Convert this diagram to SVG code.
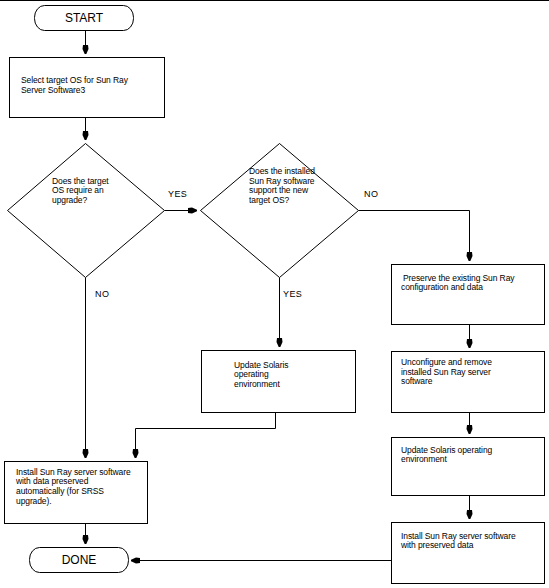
<svg xmlns="http://www.w3.org/2000/svg" width="549" height="588" viewBox="0 0 549 588">
<style>
  .shape { fill: #fff; stroke: #000; stroke-width: 1; }
  .conn { fill: none; stroke: #000; stroke-width: 1; marker-end: url(#arr); }
  text { font-family: "Liberation Sans", Arial, sans-serif; fill: #000; }
  .t { font-size: 8.5px; letter-spacing: -0.1px; }
  .term { font-size: 12px; text-anchor: middle; }
  .lbl { font-size: 9px; letter-spacing: 0.4px; }
</style>
<defs>
  <marker id="arr" markerUnits="userSpaceOnUse" viewBox="-10 -4 11 8" refX="0" refY="0" markerWidth="11" markerHeight="8" orient="auto">
    <path d="M-9,-2.5 L-5,-3 L0,-0.8 L0,0.8 L-5,3 L-9,2.5 Z" fill="#000"/>
  </marker>
</defs>
<rect width="549" height="588" fill="#fff"/>
<line x1="0" y1="0.5" x2="549" y2="0.5" stroke="#000"/>

<g id="connectors">
  <path class="conn" d="M85.5,30.5 V54"/>
  <path class="conn" d="M85.5,117.5 V140"/>
  <path class="conn" d="M164.5,210.5 H197"/>
  <path class="conn" d="M358.5,210.5 H469.5 V261"/>
  <path class="conn" d="M85.5,277.5 V458"/>
  <path class="conn" d="M279.5,277.5 V347"/>
  <path class="conn" d="M275.5,412.5 V428.5 H135.5 V458"/>
  <path class="conn" d="M469.5,324.5 V348"/>
  <path class="conn" d="M469.5,412.5 V434"/>
  <path class="conn" d="M469.5,495.5 V519"/>
  <path class="conn" d="M391.5,560.5 H131"/>
  <path class="conn" d="M85.5,523.5 V544"/>
  <text class="lbl" x="168" y="197">YES</text>
  <text class="lbl" x="364" y="197">NO</text>
  <text class="lbl" x="95" y="297">NO</text>
  <text class="lbl" x="283" y="297">YES</text>
</g>

<g id="start">
  <rect class="shape" x="34.5" y="5.5" width="99" height="25" rx="10" ry="12"/>
  <text class="term" x="84" y="22">START</text>
</g>

<g id="select">
  <rect class="shape" x="9.5" y="57.5" width="155" height="60"/>
  <text class="t" x="21" y="83">Select target OS for Sun Ray</text>
  <text class="t" x="21" y="92.6">Server Software3</text>
</g>

<g id="decision1">
  <polygon class="shape" points="85.5,143.5 164.5,210.5 85.5,277.5 7.5,210.5"/>
  <text class="t" x="52" y="183.5">Does the target</text>
  <text class="t" x="52" y="193.1">OS require an</text>
  <text class="t" x="52" y="202.7">upgrade?</text>
</g>

<g id="decision2">
  <polygon class="shape" points="279.5,143.5 358.5,210.5 279.5,277.5 200.5,210.5"/>
  <text class="t" x="249" y="174">Does the installed</text>
  <text class="t" x="249" y="183.6">Sun Ray software</text>
  <text class="t" x="249" y="193.2">support the new</text>
  <text class="t" x="249" y="202.8">target OS?</text>
</g>

<g id="preserve">
  <rect class="shape" x="391.5" y="264.5" width="153" height="60"/>
  <text class="t" x="403" y="280.8">Preserve the existing Sun Ray</text>
  <text class="t" x="401" y="290.4">configuration and data</text>
</g>

<g id="update1">
  <rect class="shape" x="201.5" y="350.5" width="154" height="62"/>
  <text class="t" x="234" y="367.5">Update Solaris</text>
  <text class="t" x="234" y="377.1">operating</text>
  <text class="t" x="234" y="386.7">environment</text>
</g>

<g id="unconfigure">
  <rect class="shape" x="391.5" y="351.5" width="153" height="61"/>
  <text class="t" x="401" y="365">Unconfigure and remove</text>
  <text class="t" x="401" y="374.6">installed Sun Ray server</text>
  <text class="t" x="401" y="384.2">software</text>
</g>

<g id="update2">
  <rect class="shape" x="391.5" y="437.5" width="153" height="58"/>
  <text class="t" x="401" y="452.8">Update Solaris operating</text>
  <text class="t" x="401" y="462.4">environment</text>
</g>

<g id="install2">
  <rect class="shape" x="391.5" y="522.5" width="153" height="61"/>
  <text class="t" x="401" y="538.8">Install Sun Ray server software</text>
  <text class="t" x="401" y="548.4">with preserved data</text>
</g>

<g id="install1">
  <rect class="shape" x="4.5" y="461.5" width="143" height="62"/>
  <text class="t" x="16" y="474.8">Install Sun Ray server software</text>
  <text class="t" x="16" y="484.4">with data preserved</text>
  <text class="t" x="16" y="494">automatically (for SRSS</text>
  <text class="t" x="16" y="503.6">upgrade).</text>
</g>

<g id="done">
  <rect class="shape" x="29.5" y="547.5" width="99" height="25" rx="10" ry="12"/>
  <text class="term" x="79" y="564">DONE</text>
</g>
</svg>
